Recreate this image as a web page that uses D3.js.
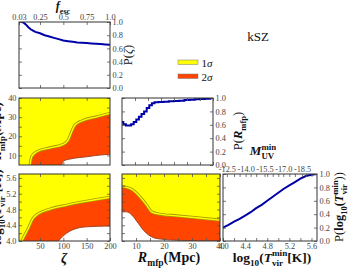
<!DOCTYPE html>
<html>
<head>
<meta charset="utf-8">
<script src="https://cdn.jsdelivr.net/npm/d3@7"></script>
<style>
	body { margin: 0; background: #fff; }
	svg { display: block; }
</style>
</head>
<body>
<svg id="chart" width="350" height="268"></svg>
<script>
'use strict';

// axis ranges
var zetaDomain = [5, 200];
var rmfpDomain = [5, 40];
var tvirDomain = [4.0, 5.7];
var probDomain = [0, 1];

// tick values and labels
var zetaTicks = [50, 100, 150, 200];
var fescTickZeta = [5, 50, 100, 150, 200];
var fescLabels = ["0.03", "0.25", "0.5", "0.75", "1.0"];
var rmfpTicks = [10, 15, 20, 25, 30, 35, 40];
var rmfpLabels = [10, 20, 30, 40];
var tvirTicks = [4.0, 4.2, 4.4, 4.6, 4.8, 5.0, 5.2, 5.4, 5.6];
var tvirLabels = [4.0, 4.4, 4.8, 5.2, 5.6];
var probTicks = [0, 0.2, 0.4, 0.6, 0.8, 1.0];
var muvTickTvir = [4.07, 4.41, 4.75, 5.09, 5.43];
var muvLabels = ["-12.5", "-14.0", "-15.5", "-17.0", "-18.5"];
var muvMinorTvir = [4.2, 4.3, 4.5, 4.6, 4.8, 4.9, 5.0, 5.2, 5.3, 5.5, 5.6];

// 1D marginals
var zetaVals = [5, 10, 15, 20, 25, 30, 35, 40, 50, 60, 70, 80, 90, 100, 110, 120, 130, 140, 150, 160, 170, 180, 190, 200];
var pZeta = [1.0, 1.0, 0.99, 0.96, 0.92, 0.89, 0.87, 0.85, 0.83, 0.80, 0.78, 0.76, 0.74, 0.72, 0.71, 0.70, 0.69, 0.685, 0.68, 0.675, 0.67, 0.665, 0.66, 0.655];
var rmfpVals = [5, 6, 7, 8, 9, 10, 11, 12, 13, 14, 15, 16, 17, 18, 20, 22, 24, 26, 28, 30, 32, 34, 36, 38, 40];
var pRmfp = [0.64, 0.61, 0.59, 0.59, 0.61, 0.64, 0.68, 0.72, 0.76, 0.80, 0.85, 0.89, 0.92, 0.935, 0.94, 0.945, 0.95, 0.955, 0.96, 0.97, 0.975, 0.98, 0.985, 0.99, 1.0];
var tvirVals = [4.0, 4.1, 4.2, 4.3, 4.4, 4.5, 4.6, 4.7, 4.8, 4.9, 5.0, 5.1, 5.2, 5.3, 5.4, 5.5, 5.6, 5.7];
var pTvir = [0.20, 0.24, 0.29, 0.33, 0.38, 0.43, 0.49, 0.54, 0.60, 0.66, 0.72, 0.78, 0.83, 0.88, 0.93, 0.97, 0.99, 1.0];

// 2D contours: edge1 = 1sigma/2sigma boundary, edge2 = 2sigma/white boundary
var zrEdge1Zeta = [28.6, 32.2, 42.9, 71.4, 99.9, 110.6, 117.9, 125, 139.4, 171.5, 200];
var zrEdge1Rmfp = [5, 9.3, 11.9, 14.0, 15.8, 18.1, 22.4, 25.9, 28.0, 30.2, 32.0];
var zrEdge2Zeta = [96.5, 100, 114.3, 150, 178.6, 200];
var zrEdge2Rmfp = [5, 7.1, 8.1, 9.3, 10.2, 10.6];

var ztEdge1Zeta = [10.8, 24.9, 35.6, 46.4, 71.4, 107.2, 150, 200];
var ztEdge1Tvir = [4.0, 4.32, 4.58, 4.69, 4.81, 4.91, 5.01, 5.11];
var ztEdge2Zeta = [89.2, 107.2, 128.6, 150, 200];
var ztEdge2Tvir = [4.0, 4.20, 4.32, 4.36, 4.38];

var rtEdge1Rmfp = [5, 6.7, 9.0, 11.4, 13.8, 15.6, 18.6, 24.5, 31.7, 40];
var rtEdge1Tvir = [5.38, 5.36, 5.29, 5.12, 4.91, 4.74, 4.68, 4.64, 4.59, 4.53];
var rtEdge2Rmfp = [5, 6.7, 8.5, 10.8, 12.6, 15, 18.6, 24.5, 40];
var rtEdge2Tvir = [4.74, 4.74, 4.66, 4.45, 4.28, 4.13, 4.05, 4.02, 4.0];

var SERIF = "'Liberation Serif', 'DejaVu Serif', serif";
var YELLOW = "#ffff00";
var RED = "#ff4500";
var BLUE = "#0000a8";

var panels = {
	tl: { x0: 19, x1: 110, y0: 22, y1: 88 },
	ml: { x0: 19, x1: 110, y0: 98, y1: 165 },
	mm: { x0: 122, x1: 213, y0: 98, y1: 165 },
	bl: { x0: 19, x1: 110, y0: 174, y1: 241 },
	bm: { x0: 122, x1: 220, y0: 174, y1: 241 },
	br: { x0: 223, x1: 317, y0: 174, y1: 241 }
};

var svg = d3.select("#chart");
svg.append("rect").attr("width", 350).attr("height", 268).attr("fill", "#fff");

function zip(a, b) {
	return a.map(function(v, i) { return [v, b[i]]; });
}

function labelFrom(values, labels) {
	return function(d) {
		var i = values.indexOf(d);
		return i < 0 ? "" : labels[i];
	};
}

var chart = {

	makeScales: function(p, xDom, yDom) {
		return {
			x: d3.scaleLinear().domain(xDom).range([p.x0, p.x1]),
			y: d3.scaleLinear().domain(yDom).range([p.y1, p.y0])
		};
	},

	side: function(orient, scale, shift, ticks, fmt) {
		var gens = { bottom: d3.axisBottom, top: d3.axisTop, left: d3.axisLeft, right: d3.axisRight };
		var gen = gens[orient](scale)
			.tickValues(ticks)
			.tickSizeInner(-3)
			.tickSizeOuter(0)
			.tickPadding(2.5)
			.tickFormat(fmt || function() { return ""; });
		var a = svg.append("g").attr("transform", shift).call(gen);
		a.select(".domain").remove();
		a.selectAll("line").attr("stroke", "#555").attr("stroke-width", 0.8);
		a.selectAll("text")
			.attr("font-family", SERIF)
			.attr("font-size", 8.3)
			.attr("fill", "#444");
	},

	axes: function(p, s, cfg) {
		this.side("bottom", s.x, "translate(0," + p.y1 + ")", cfg.bottom[0], cfg.bottom[1]);
		this.side("top", s.x, "translate(0," + p.y0 + ")", cfg.top[0], cfg.top[1]);
		this.side("left", s.y, "translate(" + p.x0 + ",0)", cfg.left[0], cfg.left[1]);
		this.side("right", s.y, "translate(" + p.x1 + ",0)", cfg.right[0], cfg.right[1]);
		svg.append("rect")
			.attr("x", p.x0).attr("y", p.y0)
			.attr("width", p.x1 - p.x0).attr("height", p.y1 - p.y0)
			.attr("fill", "none")
			.attr("stroke", "#333")
			.attr("stroke-width", 1);
	},

	clip: function(name, p) {
		svg.append("clipPath").attr("id", "clip-" + name)
			.append("rect")
			.attr("x", p.x0).attr("y", p.y0)
			.attr("width", p.x1 - p.x0).attr("height", p.y1 - p.y0);
		return svg.append("g").attr("clip-path", "url(#clip-" + name + ")");
	},

	line1d: function(name, p, s, xs, ys, curve) {
		var g = this.clip(name, p);
		var line = d3.line()
			.x(function(d) { return s.x(d[0]); })
			.y(function(d) { return s.y(d[1]); })
			.curve(curve);
		g.append("path")
			.attr("d", line(zip(xs, ys)))
			.attr("fill", "none")
			.attr("stroke", BLUE)
			.attr("stroke-width", 2);
	},

	contour: function(name, p, s, edge1, corners1, edge2, corners2) {
		var g = this.clip(name, p);
		var line = d3.line()
			.x(function(d) { return s.x(d[0]); })
			.y(function(d) { return s.y(d[1]); })
			.curve(d3.curveMonotoneX);
		var close = function(pts) {
			return pts.map(function(c) { return "L" + s.x(c[0]) + "," + s.y(c[1]); }).join("") + "Z";
		};

		g.append("rect")
			.attr("x", p.x0).attr("y", p.y0)
			.attr("width", p.x1 - p.x0).attr("height", p.y1 - p.y0)
			.attr("fill", YELLOW);

		g.append("path").attr("d", line(edge1) + close(corners1)).attr("fill", RED);
		g.append("path").attr("d", line(edge2) + close(corners2)).attr("fill", "#fff");
		g.append("path").attr("d", line(edge2))
			.attr("fill", "none").attr("stroke", "#9a3a18").attr("stroke-width", 0.9);

		// 1 sigma contour line: olive rim with a yellow core
		g.append("path").attr("d", line(edge1))
			.attr("fill", "none").attr("stroke", "#a89800").attr("stroke-width", 3);
		g.append("path").attr("d", line(edge1))
			.attr("fill", "none").attr("stroke", YELLOW).attr("stroke-width", 1.3);
	},

	rich: function(x, y, parts, size, rotate) {
		var t = svg.append("text")
			.attr("transform", "translate(" + x + "," + y + ")" + (rotate ? " rotate(-90)" : ""))
			.attr("text-anchor", "middle")
			.attr("font-family", SERIF)
			.attr("font-size", size)
			.attr("fill", "#111");
		var shift = 0;
		var prev = null;
		parts.forEach(function(part) {
			var target = part.sub ? size * 0.3 : (part.sup ? -size * 0.42 : 0);
			var ts = t.append("tspan").text(part.t).attr("dy", target - shift);
			shift = target;
			if (part.sub || part.sup) ts.attr("font-size", size * 0.68);
			if (part.b) ts.attr("font-weight", "bold");
			if (part.i) ts.attr("font-style", "italic");
			if (part.stack && prev) ts.attr("dx", -prev.node().getComputedTextLength());
			prev = ts;
		});
		return t;
	},

	init: function() {
		var sTL = this.makeScales(panels.tl, zetaDomain, probDomain);
		var sML = this.makeScales(panels.ml, zetaDomain, rmfpDomain);
		var sMM = this.makeScales(panels.mm, rmfpDomain, probDomain);
		var sBL = this.makeScales(panels.bl, zetaDomain, tvirDomain);
		var sBM = this.makeScales(panels.bm, rmfpDomain, tvirDomain);
		var sBR = this.makeScales(panels.br, tvirDomain, probDomain);
		var f1 = d3.format(".1f");
		var rmfpFmt = function(d) { return rmfpLabels.indexOf(d) < 0 ? "" : d; };
		var tvirFmt = function(d) {
			return tvirLabels.some(function(v) { return Math.abs(v - d) < 1e-6; }) ? f1(d) : "";
		};

		// 1D marginals
		this.line1d("tl", panels.tl, sTL, zetaVals, pZeta, d3.curveLinear);
		this.line1d("mm", panels.mm, sMM, rmfpVals, pRmfp, d3.curveStep);
		this.line1d("br", panels.br, sBR, tvirVals, pTvir, d3.curveLinear);

		// 2D panels
		this.contour("ml", panels.ml, sML,
			zip(zrEdge1Zeta, zrEdge1Rmfp), [[zetaDomain[1], rmfpDomain[0]]],
			zip(zrEdge2Zeta, zrEdge2Rmfp), [[zetaDomain[1], rmfpDomain[0]]]);
		this.contour("bl", panels.bl, sBL,
			zip(ztEdge1Zeta, ztEdge1Tvir), [[zetaDomain[1], tvirDomain[0]]],
			zip(ztEdge2Zeta, ztEdge2Tvir), [[zetaDomain[1], tvirDomain[0]]]);
		this.contour("bm", panels.bm, sBM,
			zip(rtEdge1Rmfp, rtEdge1Tvir), [[rmfpDomain[1], tvirDomain[0]], [rmfpDomain[0], tvirDomain[0]]],
			zip(rtEdge2Rmfp, rtEdge2Tvir), [[rmfpDomain[0], tvirDomain[0]]]);

		// axes
		this.axes(panels.tl, sTL, {
			bottom: [zetaTicks.slice(0, 3)], top: [fescTickZeta, labelFrom(fescTickZeta, fescLabels)],
			left: [probTicks], right: [probTicks, f1]
		});
		this.axes(panels.ml, sML, {
			bottom: [zetaTicks.slice(0, 3)], top: [zetaTicks.slice(0, 3)],
			left: [rmfpTicks, rmfpFmt], right: [rmfpTicks]
		});
		this.axes(panels.mm, sMM, {
			bottom: [rmfpTicks], top: [rmfpTicks],
			left: [probTicks], right: [probTicks, f1]
		});
		this.axes(panels.bl, sBL, {
			bottom: [zetaTicks, function(d) { return d; }], top: [zetaTicks.slice(0, 3)],
			left: [tvirTicks, tvirFmt], right: [tvirTicks]
		});
		this.axes(panels.bm, sBM, {
			bottom: [rmfpTicks, rmfpFmt], top: [rmfpTicks],
			left: [tvirTicks], right: [tvirTicks]
		});
		this.axes(panels.br, sBR, {
			bottom: [tvirTicks, tvirFmt], top: [muvMinorTvir],
			left: [probTicks], right: [probTicks, f1]
		});
		this.side("top", sBR.x, "translate(0," + panels.br.y0 + ")", muvTickTvir, labelFrom(muvTickTvir, muvLabels));

		// legend
		svg.append("text").attr("x", 258).attr("y", 41)
			.attr("text-anchor", "middle").attr("font-family", SERIF).attr("font-size", 13)
			.attr("fill", "#111").text("kSZ");
		[[YELLOW, "1"], [RED, "2"]].forEach(function(item, i) {
			var y = 60 + i * 14;
			svg.append("rect").attr("x", 178).attr("y", y).attr("width", 20).attr("height", 4.5)
				.attr("fill", item[0]).attr("stroke", "#777").attr("stroke-width", 0.5);
			chart.rich(207, y + 6.5, [{ t: item[1] }, { t: "σ", i: 1 }], 11);
		});

		// axis titles
		this.rich(63, 10, [{ t: "f", b: 1, i: 1 }, { t: "esc", b: 1, sub: 1 }], 12);
		this.rich(132, 55, [{ t: "P(" }, { t: "ζ", i: 1 }, { t: ")" }], 12.5, true);
		this.rich(242, 131, [{ t: "P(" }, { t: "R", b: 1, i: 1 }, { t: "mfp", b: 1, sub: 1 }, { t: ")" }], 12.5, true);
		this.rich(263, 155, [{ t: "M", b: 1, i: 1 }, { t: "UV", b: 1, sub: 1 }, { t: "min", b: 1, sup: 1, stack: 1 }], 13);
		this.rich(343, 207, [{ t: "P(" }, { t: "log", b: 1 }, { t: "10", b: 1, sub: 1 }, { t: "(", b: 1 },
			{ t: "T", b: 1, i: 1 }, { t: "vir", b: 1, sub: 1 }, { t: "min", b: 1, sup: 1, stack: 1 }, { t: "))" }], 12.5, true);
		this.rich(64, 263, [{ t: "ζ", b: 1, i: 1 }], 14);
		this.rich(169, 262, [{ t: "R", b: 1, i: 1 }, { t: "mfp", b: 1, sub: 1 }, { t: "(Mpc)", b: 1 }], 14);
		this.rich(272, 262, [{ t: "log", b: 1 }, { t: "10", b: 1, sub: 1 }, { t: "(", b: 1 },
			{ t: "T", b: 1, i: 1 }, { t: "vir", b: 1, sub: 1 }, { t: "min", b: 1, sup: 1, stack: 1 }, { t: "[K])", b: 1 }], 13.5);
		this.rich(1, 131, [{ t: "R", b: 1, i: 1 }, { t: "mfp", b: 1, sub: 1 }, { t: "(Mpc)", b: 1 }], 13, true);
		this.rich(1, 207, [{ t: "log", b: 1 }, { t: "10", b: 1, sub: 1 }, { t: "(", b: 1 },
			{ t: "T", b: 1, i: 1 }, { t: "vir", b: 1, sub: 1 }, { t: "min", b: 1, sup: 1, stack: 1 }, { t: "[K])", b: 1 }], 13, true);
	}
};

chart.init();
</script>
</body>
</html>
